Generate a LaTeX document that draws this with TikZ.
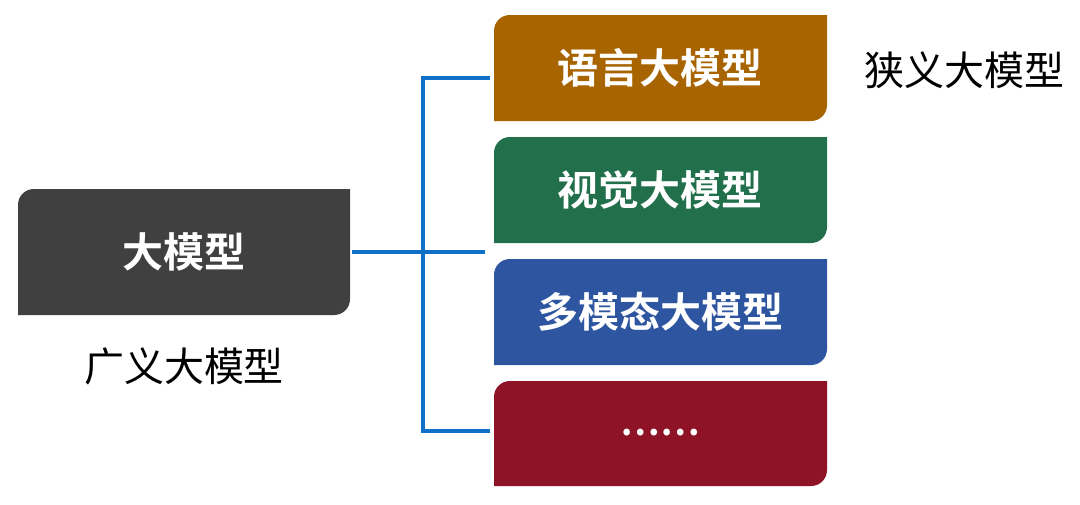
\documentclass[tikz,border=0pt]{standalone}
\usepackage{fontspec}
\newfontfamily\cjk{Noto Sans CJK SC}
\newfontfamily\cjkb{Noto Sans CJK SC Bold}
\definecolor{cbrown}{HTML}{A86400}
\definecolor{cgreen}{HTML}{22704B}
\definecolor{cblue}{HTML}{2E55A0}
\definecolor{cred}{HTML}{8E1326}
\definecolor{cdark}{HTML}{404040}
\definecolor{cline}{HTML}{1070C8}
\begin{document}
\begin{tikzpicture}[x=1pt,y=-1pt,
  conn/.style={cline,line width=4pt},
  btxt/.style={text=white,font=\cjkb\fontsize{41}{48}\selectfont},
  lbl/.style={font=\cjk\fontsize{40}{46}\selectfont,text=black}]
\useasboundingbox (0,0) rectangle (1080,504);
\newcommand\tbox[6]{%
  \fill[#5] (#1,#4) -- (#1,#2+16) .. controls (#1,#2+7) and (#1+7,#2) .. (#1+16,#2) -- (#3,#2) -- (#3,#4-16) .. controls (#3,#4-7) and (#3-7,#4) .. (#3-16,#4) -- cycle;
  \coordinate (#6) at ({(#1+#3)/2},{(#2+#4)/2});}
\tbox{18}{189}{350}{315}{cdark}{m}
\tbox{494}{15}{827}{121}{cbrown}{b1}
\tbox{494}{137}{827}{243}{cgreen}{b2}
\tbox{494}{259}{827}{365}{cblue}{b3}
\tbox{494}{381}{827}{486}{cred}{b4}
\node[btxt] (mt) at (184,252) {大模型};
\node[btxt] (t1) at (660,68) {语言大模型};
\node[btxt] (t2) at (660,190) {视觉大模型};
\node[btxt] (t3) at (660,312) {多模态大模型};
\node[text=white,font=\cjkb\fontsize{36}{42}\selectfont] (t4) at (660,433) {……};
\node[lbl] (l1) at (964,70) {狭义大模型};
\node[lbl] (l2) at (184,366) {广义大模型};
\coordinate (a) at (352,252);
\coordinate (c) at (485,252);
\coordinate (t) at (490,78);
\coordinate (u) at (490,431);
\draw[conn] (a) -- (c);
\draw[conn] (t) -- (423,78) -- (423,431) -- (u);
\end{tikzpicture}
\end{document}
